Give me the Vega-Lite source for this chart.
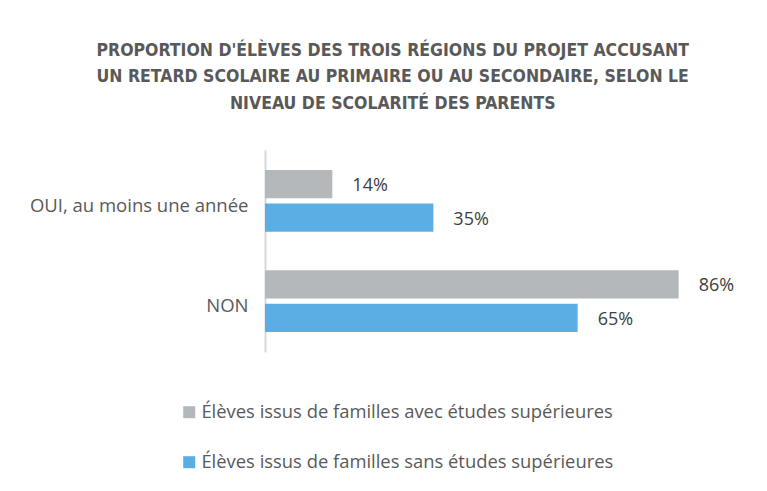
{
  "$schema": "https://vega.github.io/schema/vega-lite/v6.json",
  "autosize": "none",
  "width": 481,
  "height": 202,
  "padding": {"left": 265, "top": 150, "right": 21, "bottom": 139},
  "background": "white",
  "config": {"view": {"stroke": null}},
  "title": {
    "text": ["PROPORTION D'ÉLÈVES DES TROIS RÉGIONS DU PROJET ACCUSANT", "UN RETARD SCOLAIRE AU PRIMAIRE OU AU SECONDAIRE, SELON LE", "NIVEAU DE SCOLARITÉ DES PARENTS"],
    "font": "DejaVu Sans Condensed",
    "fontSize": 17.5,
    "fontWeight": "bold",
    "color": "#595959",
    "lineHeight": 26.5,
    "anchor": "middle",
    "frame": "bounds",
    "offset": 38,
    "dx": 5
  },
  "data": {
    "values": [
      {"cat": "OUI, au moins une année", "serie": "Élèves issus de familles avec études supérieures", "val": 0.14},
      {"cat": "OUI, au moins une année", "serie": "Élèves issus de familles sans études supérieures", "val": 0.35},
      {"cat": "NON", "serie": "Élèves issus de familles avec études supérieures", "val": 0.86},
      {"cat": "NON", "serie": "Élèves issus de familles sans études supérieures", "val": 0.65}
    ]
  },
  "encoding": {
    "y": {
      "field": "cat",
      "type": "nominal",
      "sort": ["OUI, au moins une année", "NON"],
      "scale": {"paddingInner": 0.386, "paddingOuter": 0.2},
      "axis": {
        "title": null,
        "ticks": false,
        "domainColor": "#d9d9d9",
        "domainWidth": 2,
        "labelFont": "Open Sans",
        "labelFontSize": 18.5,
        "labelColor": "#595959",
        "labelPadding": 17,
        "labelOffset": 5,
        "labelLimit": 300
      }
    },
    "yOffset": {
      "field": "serie",
      "type": "nominal",
      "scale": {"paddingInner": 0.16}
    },
    "x": {
      "field": "val",
      "type": "quantitative",
      "scale": {"domain": [0, 1]},
      "axis": null
    }
  },
  "layer": [
    {
      "mark": {"type": "bar"},
      "encoding": {
        "color": {
          "field": "serie",
          "type": "nominal",
          "scale": {"range": ["#B5B8BB", "#5BAEE3"]},
          "legend": {
            "title": null,
            "orient": "none",
            "legendX": -85,
            "legendY": 253,
            "direction": "vertical",
            "symbolType": "square",
            "symbolSize": 144,
            "symbolStrokeWidth": 0,
            "labelFont": "Open Sans",
            "labelFontSize": 18.4,
            "labelColor": "#595959",
            "labelOffset": 3,
            "labelLimit": 600,
            "rowPadding": 31
          }
        }
      }
    },
    {
      "mark": {"type": "text", "align": "left", "dx": 20, "dy": 2, "font": "Open Sans", "fontSize": 18, "color": "#404040"},
      "encoding": {
        "text": {"field": "val", "type": "quantitative", "format": ".0%"},
        "detail": {"field": "serie"}
      }
    }
  ]
}
